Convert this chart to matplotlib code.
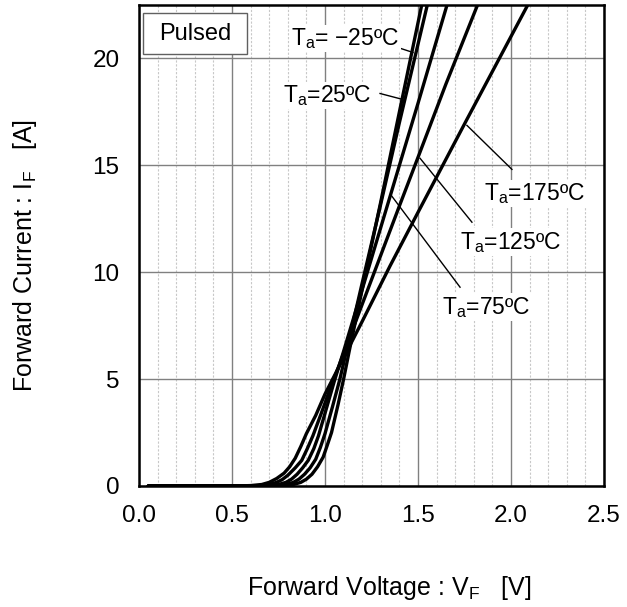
import numpy as np
import matplotlib
matplotlib.use('Agg')
import matplotlib.pyplot as plt
from matplotlib.patches import Rectangle

plt.rcParams['font.family'] = ['Liberation Sans', 'DejaVu Sans']
plt.rcParams['mathtext.fontset'] = 'custom'
plt.rcParams['mathtext.rm'] = 'Liberation Sans'
plt.rcParams['mathtext.it'] = 'Liberation Sans'

# forward characteristics (V, A)
v_m25 = [0.05, 0.70, 0.78, 0.83, 0.87, 0.90, 0.93, 0.96, 0.99, 1.01, 1.035, 1.07, 1.10, 1.13, 1.20, 1.30, 1.40, 1.52]
i_m25 = [0, 0, 0.02, 0.07, 0.17, 0.32, 0.55, 0.9, 1.35, 1.85, 2.5, 3.8, 5.0, 6.3, 9.2, 13.3, 17.5, 22.5]

v_25 = [0.05, 0.66, 0.74, 0.79, 0.83, 0.86, 0.89, 0.92, 0.95, 0.975, 1.0, 1.04, 1.08, 1.12, 1.20, 1.30, 1.40, 1.55]
i_25 = [0, 0, 0.02, 0.07, 0.17, 0.32, 0.55, 0.85, 1.25, 1.8, 2.45, 3.7, 5.0, 6.5, 9.5, 13.2, 17.0, 22.5]

v_75 = [0.05, 0.62, 0.70, 0.75, 0.79, 0.82, 0.85, 0.88, 0.91, 0.94, 0.965, 1.0, 1.05, 1.10, 1.20, 1.30, 1.40, 1.50, 1.656]
i_75 = [0, 0, 0.02, 0.07, 0.17, 0.32, 0.55, 0.85, 1.2, 1.75, 2.35, 3.4, 4.9, 6.3, 9.2, 12.1, 15.0, 17.9, 22.5]

v_125 = [0.05, 0.57, 0.65, 0.70, 0.74, 0.77, 0.80, 0.84, 0.875, 0.905, 0.935, 0.98, 1.03, 1.10, 1.20, 1.30, 1.40, 1.51, 1.65, 1.82]
i_125 = [0, 0, 0.02, 0.07, 0.17, 0.3, 0.5, 0.85, 1.2, 1.75, 2.35, 3.4, 4.6, 6.2, 8.5, 10.8, 13.1, 15.6, 18.8, 22.5]

v_175 = [0.05, 0.52, 0.60, 0.66, 0.70, 0.74, 0.78, 0.81, 0.84, 0.87, 0.90, 0.95, 1.0, 1.1, 1.2, 1.35, 1.50, 1.76, 2.09]
i_175 = [0, 0, 0.02, 0.07, 0.17, 0.35, 0.6, 0.9, 1.3, 1.85, 2.45, 3.3, 4.3, 6.0, 7.7, 10.3, 12.8, 17.1, 22.5]

curves = [(v_m25, i_m25), (v_25, i_25), (v_75, i_75), (v_125, i_125), (v_175, i_175)]

labels = ['T$_\\mathregular{a}$= \u221225\u00baC', 'T$_\\mathregular{a}$=25\u00baC',
          'T$_\\mathregular{a}$=75\u00baC', 'T$_\\mathregular{a}$=125\u00baC',
          'T$_\\mathregular{a}$=175\u00baC']
# label text centre and leader line (from, to)
label_xy = [(1.108, 20.93), (1.011, 18.27), (1.866, 8.36), (2.0, 11.4), (2.129, 13.69)]
leader_from = [(1.392, 20.51), (1.296, 18.36), (1.726, 9.30), (1.790, 12.34), (2.005, 14.81)]
leader_to = [(1.473, 20.28), (1.419, 18.08), (1.360, 13.55), (1.511, 15.33), (1.763, 16.87)]

fig = plt.figure(figsize=(6.27, 6.07), dpi=100)
ax = fig.add_axes([139/627, 121/607, 465/627, 481/607])

ax.set_xlim(0, 2.5)
ax.set_ylim(0, 22.5)
ax.set_xticks(np.arange(0, 2.51, 0.5))
ax.set_xticks(np.arange(0, 2.51, 0.1), minor=True)
ax.set_yticks([0, 5, 10, 15, 20])
ax.grid(which='minor', axis='x', color='#c8c8c8', linestyle=(0, (2, 1.5)), linewidth=0.8)
ax.grid(which='major', color='#808080', linewidth=1.0)
ax.set_axisbelow(True)
ax.tick_params(which='both', length=0, labelsize=17.5)
ax.tick_params(axis='y', pad=14)
ax.tick_params(axis='x', pad=14)
ax.set_xticklabels(['0.0', '0.5', '1.0', '1.5', '2.0', '2.5'])
for s in ax.spines.values():
    s.set_linewidth(1.8)

for v, i in curves:
    ax.plot(v, i, color='black', linewidth=2.4, solid_capstyle='round')

for lab, xy, p0, p1 in zip(labels, label_xy, leader_from, leader_to):
    ax.plot([p0[0], p1[0]], [p0[1], p1[1]], color='black', linewidth=1.0)
    ax.text(xy[0], xy[1], lab, fontsize=16.5, ha='center', va='center',
            bbox=dict(facecolor='white', edgecolor='none', pad=1))

ax.add_patch(Rectangle((0.008, 0.8975), 0.225, 0.0855, transform=ax.transAxes,
                       facecolor='white', edgecolor='#606060', linewidth=1.0, zorder=3))
ax.text(0.1205, 0.94, 'Pulsed', transform=ax.transAxes, fontsize=17,
        ha='center', va='center', zorder=4)

fig.text(389/627, 1 - 588/607, 'Forward Voltage : V$_\\mathregular{F}$   [V]',
         fontsize=18, ha='center', va='center')
fig.text(25/627, 1 - 256/607, 'Forward Current : I$_\\mathregular{F}$   [A]',
         fontsize=18, ha='center', va='center', rotation=90)

fig.savefig('out.png', dpi=100)
